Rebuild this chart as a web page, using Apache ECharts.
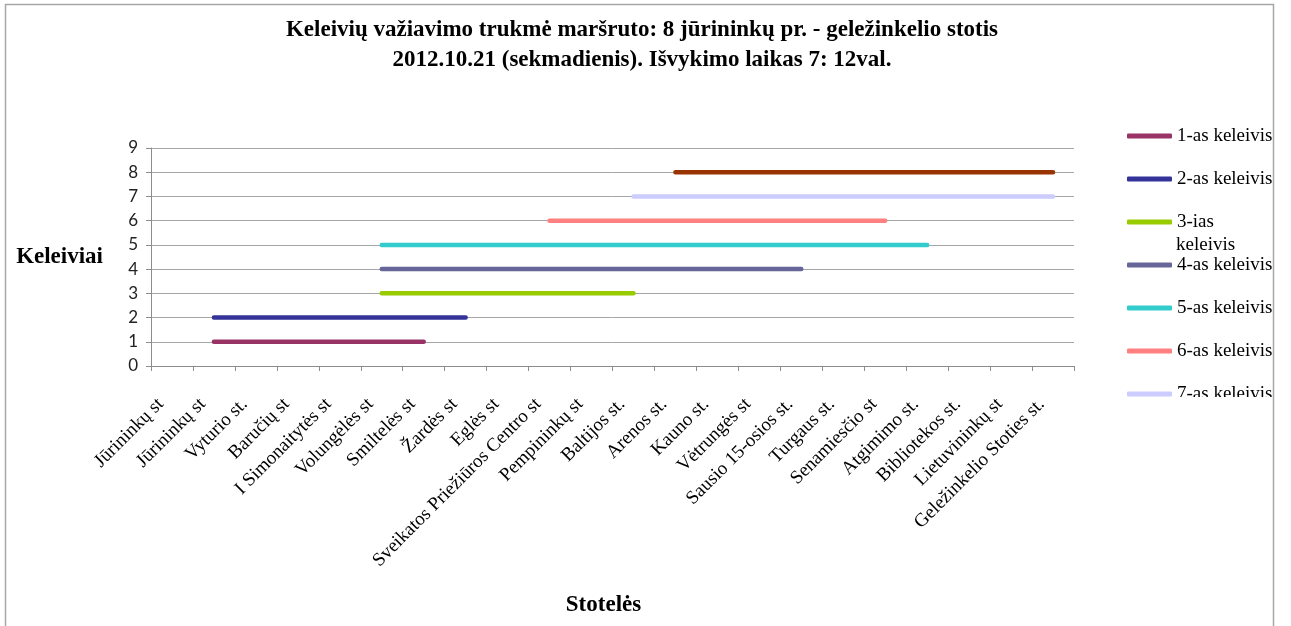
<!DOCTYPE html>
<html>
<head>
<meta charset="utf-8">
<script src="https://cdn.jsdelivr.net/npm/echarts@6/dist/echarts.min.js"></script>
<style>
html,body{margin:0;padding:0;background:#fff;}
#chart{width:1291px;height:626px;}
</style>
</head>
<body>
<div id="chart"></div>
<script>
const categories = [
  'Jūrininkų st', 'Jūrininkų st', 'Vyturio st.', 'Baručių st', 'I Simonaitytės st',
  'Volungėlės st', 'Smiltelės st', 'Žardės st', 'Eglės st', 'Sveikatos Priežiūros Centro st',
  'Pempininkų st', 'Baltijos st.', 'Arenos st.', 'Kauno st.', 'Vėtrungės st',
  'Sausio 15-osios st.', 'Turgaus st.', 'Senamiesčio st', 'Atgimimo st.', 'Bibliotekos st.',
  'Lietuvininkų st', 'Geležinkelio Stoties st.'
];
const seriesNames = ['1-as keleivis', '2-as keleivis', '3-ias keleivis', '4-as keleivis',
  '5-as keleivis', '6-as keleivis', '7-as keleivis', '8-as keleivis'];
const keleivis1 = [null,1,1,1,1,1,1,null,null,null,null,null,null,null,null,null,null,null,null,null,null,null];
const keleivis2 = [null,2,2,2,2,2,2,2,null,null,null,null,null,null,null,null,null,null,null,null,null,null];
const keleivis3 = [null,null,null,null,null,3,3,3,3,3,3,3,null,null,null,null,null,null,null,null,null,null];
const keleivis4 = [null,null,null,null,null,4,4,4,4,4,4,4,4,4,4,4,null,null,null,null,null,null];
const keleivis5 = [null,null,null,null,null,5,5,5,5,5,5,5,5,5,5,5,5,5,5,null,null,null];
const keleivis6 = [null,null,null,null,null,null,null,null,null,6,6,6,6,6,6,6,6,6,null,null,null,null];
const keleivis7 = [null,null,null,null,null,null,null,null,null,null,null,7,7,7,7,7,7,7,7,7,7,7];
const keleivis8 = [null,null,null,null,null,null,null,null,null,null,null,null,8,8,8,8,8,8,8,8,8,8];
const yTicks = [0,1,2,3,4,5,6,7,8,9];
const colors = ['#993366','#333399','#99CC00','#666699','#33CCCC','#FF8080','#CCCCFF','#993300'];

const allData = [keleivis1,keleivis2,keleivis3,keleivis4,keleivis5,keleivis6,keleivis7,keleivis8];
const series = allData.map((d, i) => ({
  name: seriesNames[i],
  type: 'line',
  data: d,
  symbol: 'none',
  connectNulls: false,
  color: colors[i],
  lineStyle: { width: 4.5, cap: 'round', color: colors[i] },
  animation: false
}));

const chart = echarts.init(document.getElementById('chart'), null, {renderer: 'canvas'});
chart.setOption({
  backgroundColor: '#fff',
  animation: false,
  title: {
    text: 'Keleivių važiavimo trukmė maršruto: 8 jūrininkų pr. - geležinkelio stotis\n2012.10.21 (sekmadienis). Išvykimo laikas 7: 12val.',
    left: 637,
    textAlign: 'center',
    top: 10,
    textStyle: {
      fontFamily: 'Liberation Serif',
      fontWeight: 'bold',
      fontSize: 23,
      lineHeight: 30,
      color: '#000'
    }
  },
  legend: {
    orient: 'vertical',
    left: 1122,
    top: 121,
    data: seriesNames.slice(0, 7),
    icon: 'roundRect',
    itemWidth: 45,
    itemHeight: 5,
    itemGap: 23,
    formatter: function (n) { return n === '3-ias keleivis' ? '3-ias' : n; },
    textStyle: {
      fontFamily: 'Liberation Serif',
      fontSize: 19,
      lineHeight: 20,
      color: '#000'
    }
  },
  graphic: [
    {
      type: 'text',
      left: 1176,
      top: 236,
      style: { text: 'keleivis', font: '19px "Liberation Serif"', fill: '#000' }
    },
    {
      type: 'rect',
      shape: { x: 1120, y: 397, width: 152, height: 14 },
      style: { fill: '#fff' },
      z: 100
    },
    {
      type: 'rect',
      shape: { x: 1274, y: 100, width: 17, height: 400 },
      style: { fill: '#fff' },
      z: 100
    },
    {
      type: 'rect',
      shape: { x: 5.5, y: 4.5, width: 1268, height: 700 },
      style: { fill: 'none', stroke: '#a6a6a6', lineWidth: 1.5 },
      z: 101,
      silent: true
    }
  ],
  grid: {
    left: 151,
    right: 217,
    top: 148,
    bottom: 260,
    containLabel: false
  },
  xAxis: {
    type: 'category',
    data: categories,
    boundaryGap: true,
    name: 'Stotelės',
    nameLocation: 'middle',
    nameGap: 228,
    nameTextStyle: {
      fontFamily: 'Liberation Serif',
      fontWeight: 'bold',
      fontSize: 23,
      color: '#000',
      padding: [0, 18, 0, 0]
    },
    axisLine: { lineStyle: { color: '#8c8c8c', width: 1 } },
    axisTick: { show: true, interval: 0, length: 5, lineStyle: { color: '#8c8c8c' } },
    axisLabel: {
      interval: 0,
      rotate: 45,
      margin: 24,
      padding: [0, 16, 0, 0],
      fontFamily: 'Liberation Serif',
      fontSize: 19,
      color: '#000'
    },
    splitLine: { show: false }
  },
  yAxis: {
    type: 'value',
    min: yTicks[0],
    max: yTicks[yTicks.length - 1],
    interval: 1,
    name: 'Keleiviai',
    nameLocation: 'middle',
    nameRotate: 0,
    nameGap: 48,
    nameTextStyle: {
      fontFamily: 'Liberation Serif',
      fontWeight: 'bold',
      fontSize: 23,
      color: '#000',
      align: 'right',
      padding: [6, 0, 0, 0]
    },
    axisLine: { show: true, lineStyle: { color: '#8c8c8c', width: 1 } },
    axisTick: { show: true, length: 5, lineStyle: { color: '#8c8c8c' } },
    axisLabel: {
      margin: 13,
      fontFamily: 'Lato',
      fontSize: 17,
      color: '#222'
    },
    splitLine: { show: true, lineStyle: { color: '#a6a6a6', width: 1 } }
  },
  series: series
});
</script>
</body>
</html>
